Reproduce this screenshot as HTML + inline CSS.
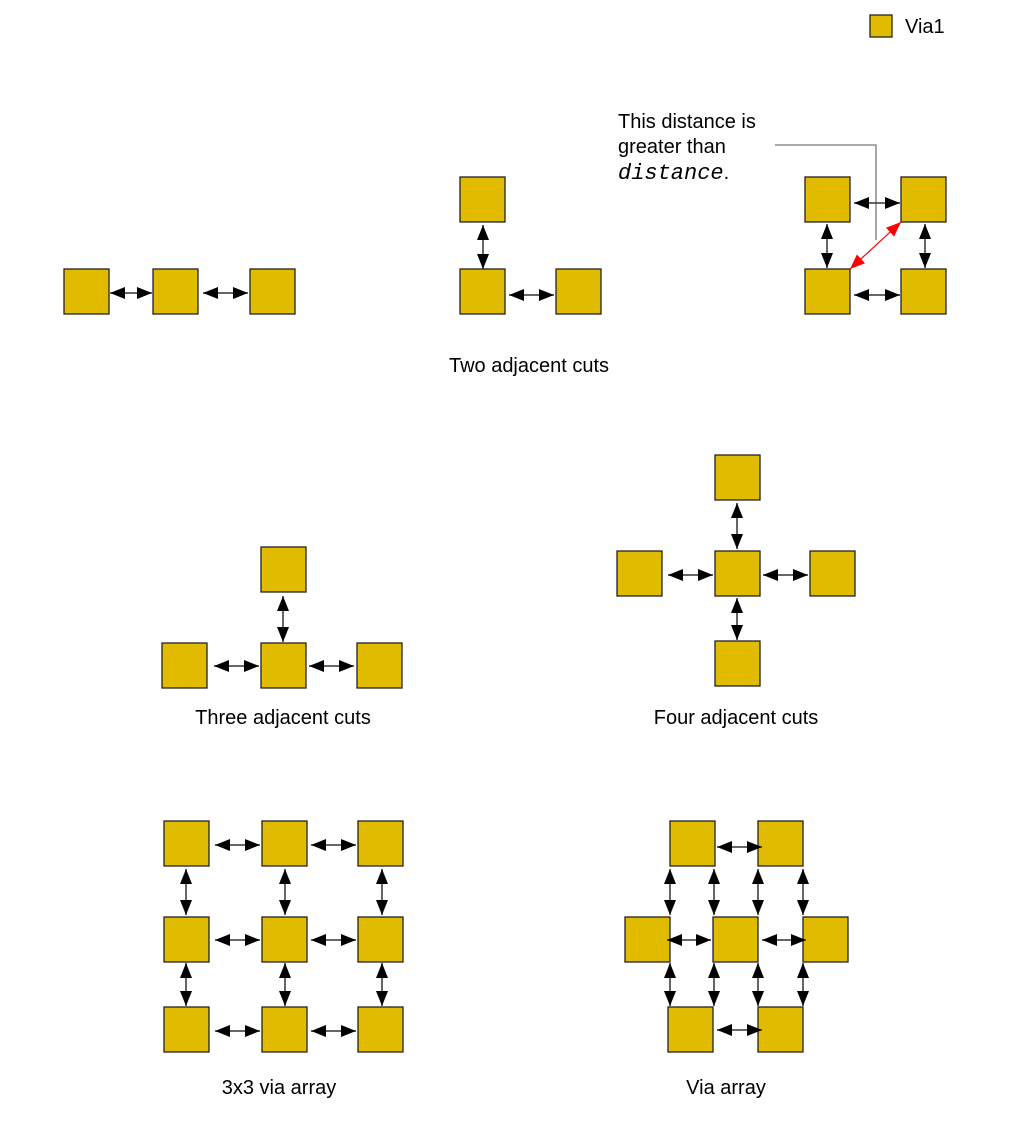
<!DOCTYPE html>
<html><head><meta charset="utf-8"><style>
html,body{margin:0;padding:0;background:#fff;}
svg{display:block;}
text{font-family:"Liberation Sans",sans-serif;font-size:20px;fill:#000;}
.s{fill:#E0BB00;stroke:#222;stroke-width:1.3;}
.a{stroke:#333;stroke-width:1.5;marker-start:url(#m);marker-end:url(#m);}
.r{stroke:#f00;stroke-width:1.2;marker-start:url(#mr);marker-end:url(#mr);}
</style></head><body>
<svg width="1013" height="1124" viewBox="0 0 1013 1124" xmlns="http://www.w3.org/2000/svg">
<defs>
<marker id="m" markerUnits="userSpaceOnUse" markerWidth="15" markerHeight="14" refX="15" refY="7" orient="auto-start-reverse" viewBox="0 0 15 14"><path d="M0,1 L15,7 L0,13 z" fill="#000"/></marker>
<marker id="mr" markerUnits="userSpaceOnUse" markerWidth="15" markerHeight="14" refX="15" refY="7" orient="auto-start-reverse" viewBox="0 0 15 14"><path d="M0,1 L15,7 L0,13 z" fill="#f00"/></marker>
</defs>
<rect class="s" x="870" y="15" width="22" height="22"/>
<text x="905" y="33">Via1</text>

<rect class="s" x="64" y="269" width="45" height="45"/>
<rect class="s" x="153" y="269" width="45" height="45"/>
<rect class="s" x="250" y="269" width="45" height="45"/>
<line class="a" x1="110" y1="293" x2="152" y2="293"/>
<line class="a" x1="203" y1="293" x2="248" y2="293"/>

<rect class="s" x="460" y="177" width="45" height="45"/>
<rect class="s" x="460" y="269" width="45" height="45"/>
<rect class="s" x="556" y="269" width="45" height="45"/>
<line class="a" x1="483" y1="225" x2="483" y2="269"/>
<line class="a" x1="509" y1="295" x2="554" y2="295"/>
<text x="529" y="372" text-anchor="middle">Two adjacent cuts</text>

<text x="618" y="128">This distance is</text>
<text x="618" y="153">greater than</text>
<text x="618" y="179"><tspan font-family="Liberation Mono,monospace" font-style="italic" font-size="22">distance</tspan>.</text>
<polyline points="775,145 876,145 876,240" fill="none" stroke="#777" stroke-width="1.3"/>
<rect class="s" x="805" y="177" width="45" height="45"/>
<rect class="s" x="901" y="177" width="45" height="45"/>
<rect class="s" x="805" y="269" width="45" height="45"/>
<rect class="s" x="901" y="269" width="45" height="45"/>
<line class="a" x1="854" y1="203" x2="900" y2="203"/>
<line class="a" x1="854" y1="295" x2="900" y2="295"/>
<line class="a" x1="827" y1="224" x2="827" y2="268"/>
<line class="a" x1="925" y1="224" x2="925" y2="268"/>
<line class="r" x1="850" y1="269" x2="901" y2="222"/>

<rect class="s" x="261" y="547" width="45" height="45"/>
<rect class="s" x="162" y="643" width="45" height="45"/>
<rect class="s" x="261" y="643" width="45" height="45"/>
<rect class="s" x="357" y="643" width="45" height="45"/>
<line class="a" x1="283" y1="596" x2="283" y2="642"/>
<line class="a" x1="214" y1="666" x2="259" y2="666"/>
<line class="a" x1="309" y1="666" x2="354" y2="666"/>
<text x="283" y="724" text-anchor="middle">Three adjacent cuts</text>

<rect class="s" x="715" y="455" width="45" height="45"/>
<rect class="s" x="617" y="551" width="45" height="45"/>
<rect class="s" x="715" y="551" width="45" height="45"/>
<rect class="s" x="810" y="551" width="45" height="45"/>
<rect class="s" x="715" y="641" width="45" height="45"/>
<line class="a" x1="737" y1="503" x2="737" y2="549"/>
<line class="a" x1="737" y1="598" x2="737" y2="640"/>
<line class="a" x1="668" y1="575" x2="713" y2="575"/>
<line class="a" x1="763" y1="575" x2="808" y2="575"/>
<text x="736" y="724" text-anchor="middle">Four adjacent cuts</text>

<rect class="s" x="164" y="821" width="45" height="45"/>
<rect class="s" x="262" y="821" width="45" height="45"/>
<rect class="s" x="358" y="821" width="45" height="45"/>
<rect class="s" x="164" y="917" width="45" height="45"/>
<rect class="s" x="262" y="917" width="45" height="45"/>
<rect class="s" x="358" y="917" width="45" height="45"/>
<rect class="s" x="164" y="1007" width="45" height="45"/>
<rect class="s" x="262" y="1007" width="45" height="45"/>
<rect class="s" x="358" y="1007" width="45" height="45"/>
<line class="a" x1="215" y1="845" x2="260" y2="845"/>
<line class="a" x1="311" y1="845" x2="356" y2="845"/>
<line class="a" x1="215" y1="940" x2="260" y2="940"/>
<line class="a" x1="311" y1="940" x2="356" y2="940"/>
<line class="a" x1="215" y1="1031" x2="260" y2="1031"/>
<line class="a" x1="311" y1="1031" x2="356" y2="1031"/>
<line class="a" x1="186" y1="869" x2="186" y2="915"/>
<line class="a" x1="285" y1="869" x2="285" y2="915"/>
<line class="a" x1="382" y1="869" x2="382" y2="915"/>
<line class="a" x1="186" y1="963" x2="186" y2="1006"/>
<line class="a" x1="285" y1="963" x2="285" y2="1006"/>
<line class="a" x1="382" y1="963" x2="382" y2="1006"/>
<text x="279" y="1094" text-anchor="middle">3x3 via array</text>

<rect class="s" x="670" y="821" width="45" height="45"/>
<rect class="s" x="758" y="821" width="45" height="45"/>
<rect class="s" x="625" y="917" width="45" height="45"/>
<rect class="s" x="713" y="917" width="45" height="45"/>
<rect class="s" x="803" y="917" width="45" height="45"/>
<rect class="s" x="668" y="1007" width="45" height="45"/>
<rect class="s" x="758" y="1007" width="45" height="45"/>
<line class="a" x1="717" y1="847" x2="762" y2="847"/>
<line class="a" x1="667" y1="940" x2="711" y2="940"/>
<line class="a" x1="762" y1="940" x2="806" y2="940"/>
<line class="a" x1="717" y1="1030" x2="762" y2="1030"/>
<line class="a" x1="670" y1="869" x2="670" y2="915"/>
<line class="a" x1="714" y1="869" x2="714" y2="915"/>
<line class="a" x1="758" y1="869" x2="758" y2="915"/>
<line class="a" x1="803" y1="869" x2="803" y2="915"/>
<line class="a" x1="670" y1="963" x2="670" y2="1006"/>
<line class="a" x1="714" y1="963" x2="714" y2="1006"/>
<line class="a" x1="758" y1="963" x2="758" y2="1006"/>
<line class="a" x1="803" y1="963" x2="803" y2="1006"/>
<text x="726" y="1094" text-anchor="middle">Via array</text>
</svg>
</body></html>
